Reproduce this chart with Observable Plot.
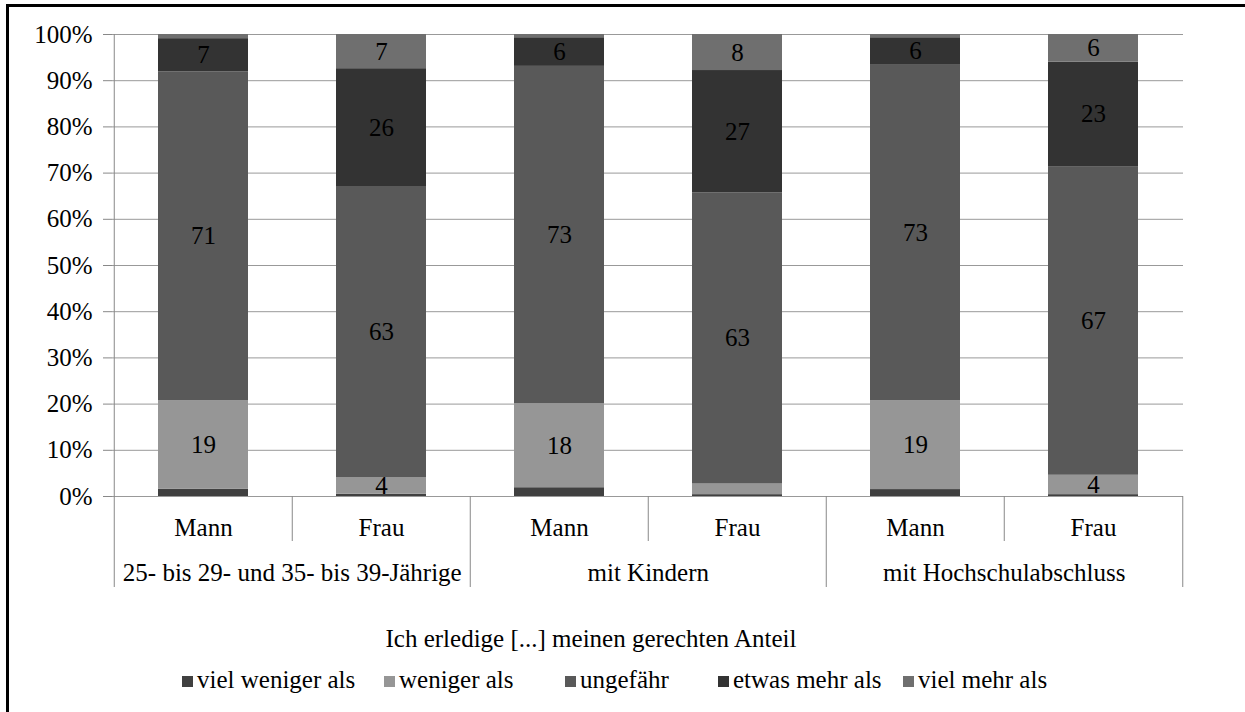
<!DOCTYPE html>
<html>
<head>
<meta charset="utf-8">
<script src="https://cdn.jsdelivr.net/npm/d3@7"></script>
<script src="https://cdn.jsdelivr.net/npm/@observablehq/plot@0.6"></script>
<style>
  html, body { margin: 0; padding: 0; background: #fff; }
  #wrap { position: relative; width: 1245px; height: 712px; overflow: hidden;
          font-family: "Liberation Serif", "Times New Roman", serif; color: #000; }
  #chart { position: absolute; left: 0; top: 0; }
  .fl { position: absolute; left: 6px; top: 4px; width: 3px; height: 708px; background: #000; }
  .ft { position: absolute; left: 6px; top: 4px; width: 1239px; height: 3px; background: #000; }
  #ltitle { position: absolute; left: 0; width: 1182px; top: 624px; text-align: center; font-size: 25px; line-height: 30px; }
  .item { position: absolute; top: 665px; font-size: 25px; line-height: 30px; white-space: nowrap; }
  .sw { display: inline-block; width: 11px; height: 11px; margin-right: 4px; vertical-align: 1px; }
</style>
</head>
<body>
<div id="wrap">
  <div id="chart"></div>
  <div class="fl"></div>
  <div class="ft"></div>
  <div id="ltitle"></div>
</div>
<script>
// ---- data ----
const groups = ["25- bis 29- und 35- bis 39-Jährige", "mit Kindern", "mit Hochschulabschluss"];
const sexes = ["Mann", "Frau"];
const categories = ["viel weniger als", "weniger als", "ungefähr", "etwas mehr als", "viel mehr als"];
const colors = ["#404040", "#969696", "#595959", "#333333", "#6f6f6f"];
const legendTitle = "Ich erledige [...] meinen gerechten Anteil";
// one value per bar: (group1 Mann, group1 Frau, group2 Mann, group2 Frau, group3 Mann, group3 Frau)
const vielWeniger = [1.6, 0.5, 1.9, 0.4, 1.5, 0.4];
const weniger     = [19.1, 3.6, 18.2, 2.3, 19.2, 4.2];
const ungefaehr   = [71.2, 63.0, 73.0, 63.0, 72.8, 66.8];
const etwasMehr   = [7.2, 25.5, 6.2, 26.5, 5.8, 22.6];
const vielMehr    = [0.9, 7.4, 0.7, 7.8, 0.7, 6.0];
const yTicks = [0, 10, 20, 30, 40, 50, 60, 70, 80, 90, 100];

// ---- build ----
const series = [vielWeniger, weniger, ungefaehr, etwasMehr, vielMehr];
const keys = groups.flatMap(g => sexes.map(s => g + "|" + s));
const data = keys.flatMap((k, i) => categories.map((c, j) => ({key: k, category: c, value: series[j][i]})));
const mannKeys = keys.filter(k => k.endsWith("|Mann"));
const frauKeys = keys.filter(k => k.endsWith("|Frau"));

const W = 1245, H = 600, ML = 112, MR = 62, MT = 34, MB = 104;
const bw = (W - ML - MR) / keys.length;
const font = "'Liberation Serif', 'Times New Roman', serif";

const chart = Plot.plot({
  width: W, height: H,
  marginLeft: ML, marginRight: MR, marginTop: MT, marginBottom: MB,
  style: {fontFamily: font, fontSize: "25px", color: "#000", background: "transparent"},
  x: {domain: keys, padding: 0, axis: null, label: null},
  y: {domain: [0, 100], axis: null, label: null},
  color: {domain: categories, range: colors},
  marks: [
    Plot.gridY(yTicks, {stroke: "#999", strokeOpacity: 1}),
    Plot.axisY(yTicks, {label: null, tickSize: 9, tickPadding: 11, tickFormat: d => d + "%", stroke: "#888", strokeOpacity: 1, fill: "#000", fontSize: 25, fontFamily: font}),
    Plot.ruleX([keys[0]], {dx: -bw / 2, stroke: "#888"}),
    Plot.barY(data, Plot.stackY({x: "key", y: "value", fill: "category", order: categories, insetLeft: 44, insetRight: 44})),
    Plot.text(data, Plot.stackY({x: "key", y: "value", z: "category", order: categories,
      text: d => d.value >= 3 ? String(Math.round(d.value)) : "", fill: "#000", fontSize: 25, fontFamily: font})),
    Plot.axisX(keys, {label: null, tickSize: 0, tickPadding: 22, tickFormat: k => k.split("|")[1], fill: "#000", fontSize: 25, fontFamily: font}),
    Plot.axisX(frauKeys, {label: null, tickSize: 45, dx: -bw / 2, tickFormat: () => "", stroke: "#888", strokeOpacity: 1}),
    Plot.axisX(frauKeys, {label: null, tickSize: 0, tickPadding: 67, dx: -bw / 2, tickFormat: k => k.split("|")[0], fill: "#000", fontSize: 25, fontFamily: font}),
    Plot.axisX(mannKeys, {label: null, tickSize: 91, dx: -bw / 2, tickFormat: () => "", stroke: "#888", strokeOpacity: 1}),
    Plot.axisX([keys[keys.length - 1]], {label: null, tickSize: 91, dx: bw / 2, tickFormat: () => "", stroke: "#888", strokeOpacity: 1})
  ]
});
document.getElementById("chart").appendChild(chart);

// ---- legend ----
document.getElementById("ltitle").textContent = legendTitle;
const legendX = [182, 384, 565, 718, 903];
const wrap = document.getElementById("wrap");
categories.forEach((c, i) => {
  const it = document.createElement("div");
  it.className = "item";
  it.style.left = legendX[i] + "px";
  const sw = document.createElement("span");
  sw.className = "sw";
  sw.style.background = colors[i];
  it.appendChild(sw);
  it.appendChild(document.createTextNode(c));
  wrap.appendChild(it);
});
</script>
</body>
</html>
